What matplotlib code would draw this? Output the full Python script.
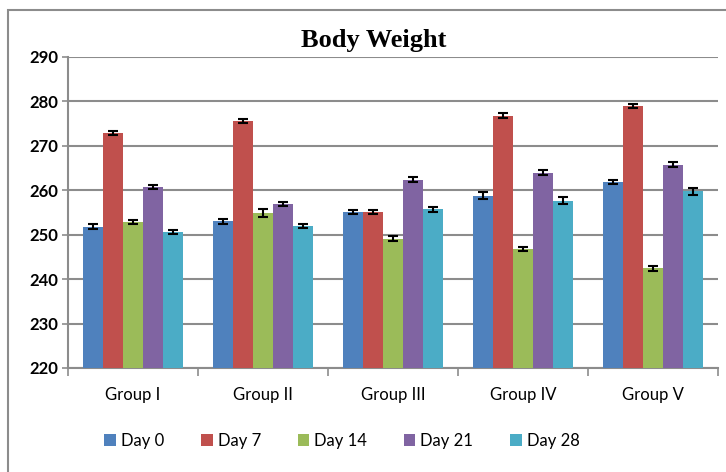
import numpy as np
import matplotlib
matplotlib.use("Agg")
import matplotlib.pyplot as plt
from matplotlib.patches import Rectangle

# Data
groups = ["Group I", "Group II", "Group III", "Group IV", "Group V"]
days = ["Day 0", "Day 7", "Day 14", "Day 21", "Day 28"]
day0 = [251.8, 253.0, 255.1, 258.8, 261.9]
day7 = [272.9, 275.6, 255.1, 276.8, 279.0]
day14 = [252.8, 254.9, 249.1, 246.8, 242.4]
day21 = [260.7, 256.9, 262.4, 264.0, 265.8]
day28 = [250.6, 251.9, 255.7, 257.7, 259.8]
err0 = [0.5, 0.5, 0.5, 0.8, 0.5]
err7 = [0.5, 0.5, 0.5, 0.5, 0.5]
err14 = [0.5, 0.9, 0.5, 0.5, 0.5]
err21 = [0.5, 0.5, 0.5, 0.5, 0.5]
err28 = [0.5, 0.5, 0.5, 0.8, 0.8]
y_ticks = [220, 230, 240, 250, 260, 270, 280, 290]

colors = ["#4F81BD", "#C0504D", "#9BBB59", "#8064A2", "#4BACC6"]
narrow = ["Lato", "DejaVu Sans"]

# 1. Figure
fig = plt.figure(figsize=(7.26, 4.72), dpi=100)
ax = fig.add_axes([68 / 726, 1 - 368 / 472, 650 / 726, 311 / 472])

# outer frame
fig.patches.append(Rectangle((8 / 726, -0.1), 1.0, 1 - 10 / 472 + 0.1,
                             transform=fig.transFigure, fill=False,
                             edgecolor="#8c8c8c", linewidth=1.5))

# 2. Plot
x = np.arange(len(groups))
bar_width = 0.154
series = [day0, day7, day14, day21, day28]
errs = [err0, err7, err14, err21, err28]
for i, (vals, err) in enumerate(zip(series, errs)):
    pos = x + (i - 2) * bar_width
    ax.bar(pos, np.array(vals) - 220, bar_width, bottom=220, color=colors[i],
           label=days[i], zorder=3)
    ax.errorbar(pos, vals, yerr=err, fmt="none", ecolor="black",
                elinewidth=1.5, capsize=3.5, capthick=1.5, zorder=4)

# 3. Axes
ax.set_xlim(-0.5, len(groups) - 0.5)
ax.set_ylim(220, 290)
ax.set_yticks(y_ticks)
ax.set_yticklabels([str(v) for v in y_ticks], family=narrow, fontsize=12,
                   fontweight="bold")
ax.set_xticks(x)
ax.set_xticklabels(groups, family=narrow, fontsize=12)
ax.set_xticks(np.arange(len(groups) + 1) - 0.5, minor=True)
ax.tick_params(axis="x", which="major", length=0, pad=14)
ax.tick_params(axis="x", which="minor", length=6, color="#8c8c8c", width=1.2)
ax.tick_params(axis="y", length=4, color="#8c8c8c", width=1.2, pad=3)
ax.grid(axis="y", color="#8c8c8c", linewidth=1.5, zorder=0)
for side in ["top", "right"]:
    ax.spines[side].set_visible(False)
for side in ["left", "bottom"]:
    ax.spines[side].set_color("#8c8c8c")
    ax.spines[side].set_linewidth(1.5)

fig.text(0.515, 1 - 40 / 472, "Body Weight", ha="center", va="center",
         family="Liberation Serif", fontsize=19, fontweight="bold")

# 4. Legend
leg = fig.legend(loc="center", bbox_to_anchor=(342 / 726, 1 - 441 / 472), ncol=5,
                 frameon=False, prop={"family": narrow, "size": 12},
                 handlelength=0.7, handleheight=0.7, handletextpad=0.3,
                 columnspacing=2.2)

plt.savefig("out.png", dpi=100)
